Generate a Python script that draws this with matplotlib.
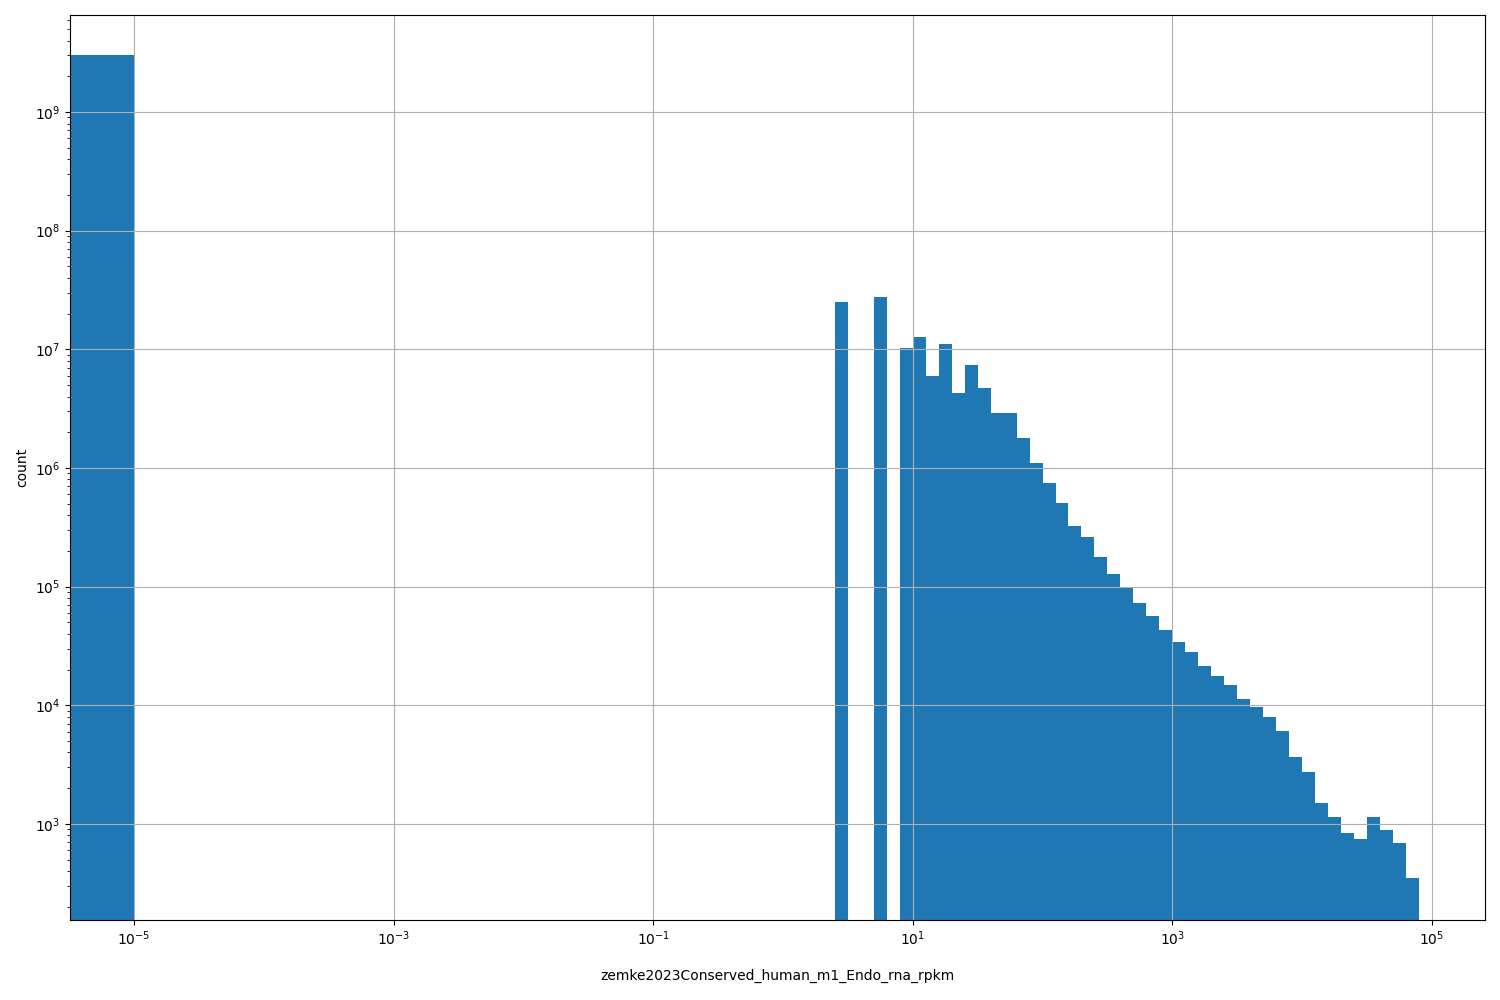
from matplotlib import pyplot as plt
from matplotlib.ticker import NullLocator
import numpy as np

# values exactly 0 land in the first bin [0, 1e-5)
zero_count = 3.0e9

# log10 of the left bin edges, 0.1 decade wide bins
bin_start = [0.4, 0.5, 0.6, 0.7, 0.8, 0.9,
             1.0, 1.1, 1.2, 1.3, 1.4, 1.5, 1.6, 1.7, 1.8, 1.9,
             2.0, 2.1, 2.2, 2.3, 2.4, 2.5, 2.6, 2.7, 2.8, 2.9,
             3.0, 3.1, 3.2, 3.3, 3.4, 3.5, 3.6, 3.7, 3.8, 3.9,
             4.0, 4.1, 4.2, 4.3, 4.4, 4.5, 4.6, 4.7, 4.8]
bin_count = [2.5e7, 0, 0, 2.75e7, 0, 1.02e7,
             1.26e7, 6.0e6, 1.1e7, 4.25e6, 7.4e6, 4.7e6, 2.9e6, 2.9e6, 1.78e6, 1.1e6,
             7.4e5, 5.1e5, 3.27e5, 2.6e5, 1.78e5, 1.28e5, 9.8e4, 7.3e4, 5.7e4, 4.35e4,
             3.4e4, 2.8e4, 2.15e4, 1.78e4, 1.47e4, 1.12e4, 9.7e3, 7.9e3, 6.05e3, 3.67e3,
             2.75e3, 1.5e3, 1.15e3, 840, 750, 1.15e3, 890, 690, 350]
x_tick_exp = [-5, -3, -1, 1, 3, 5]

edges = np.concatenate([[0, 1e-5], 10 ** np.array(bin_start + [4.9])])
counts = np.concatenate([[zero_count, 0], bin_count])
centers = edges[:-1]

fig, ax = plt.subplots(figsize=(15, 10), dpi=100)
ax.hist(centers, bins=edges, weights=counts, color='#1f77b4')
ax.set_xscale('log')
ax.set_yscale('log')
ax.set_xticks(10.0 ** np.array(x_tick_exp))
ax.xaxis.set_minor_locator(NullLocator())
ax.set_xlim(10 ** -5.493, 10 ** 5.409)
ax.set_ylim(10 ** 2.19, 10 ** 9.818)
ax.grid(True)
ax.set_xlabel('zemke2023Conserved_human_m1_Endo_rna_rpkm', labelpad=15)
ax.set_ylabel('count')
plt.subplots_adjust(left=70 / 1500, right=1485 / 1500, top=1 - 15 / 1000, bottom=1 - 920 / 1000)
plt.savefig('out.png')
